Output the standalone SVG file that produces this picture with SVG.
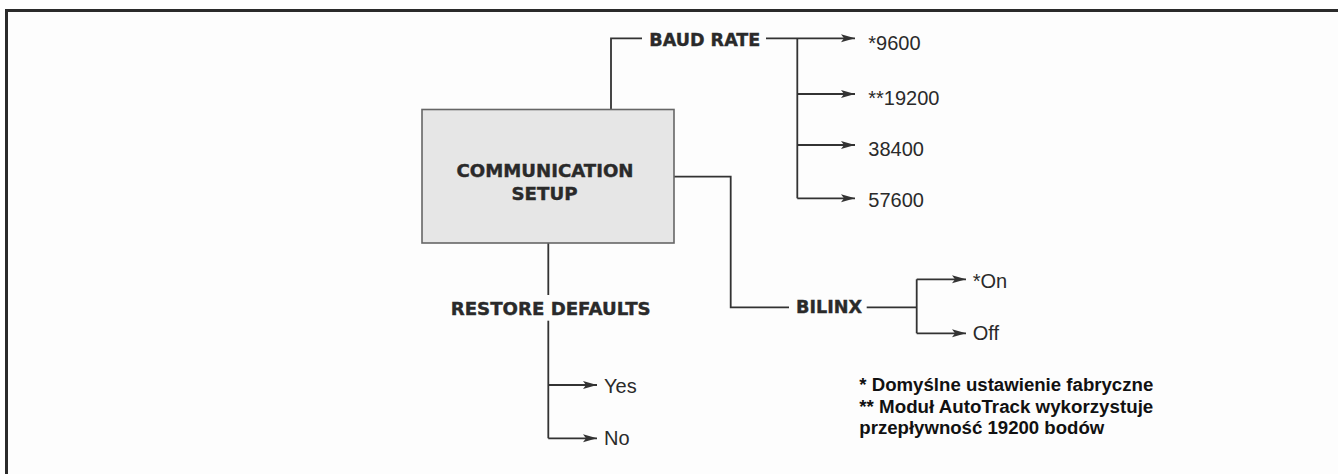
<svg xmlns="http://www.w3.org/2000/svg" width="1338" height="474" viewBox="0 0 1338 474">
<style>
.ln{fill:none;stroke:#333;stroke-width:1.8}
.arr{marker-end:url(#ah)}
.hd{font-family:"DejaVu Sans",sans-serif;font-weight:bold;font-size:18px;fill:#2a2a2a;stroke:#2a2a2a;stroke-width:0.4}
.val{font-family:"Liberation Sans",Arial,sans-serif;font-size:20px;fill:#2a2a2a}
.note{font-family:"Liberation Sans",Arial,sans-serif;font-weight:bold;font-size:18px;fill:#111}
</style>
<defs>
<marker id="ah" markerUnits="userSpaceOnUse" markerWidth="15" markerHeight="10" viewBox="0 0 15 10" refX="14" refY="5" orient="auto">
<path d="M0,1 L14,5 L0,9 L3,5 Z" fill="#333"/>
</marker>
</defs>
<rect width="1338" height="474" fill="#fff"/>
<rect x="6.5" y="10.5" width="1340" height="470" fill="#fdfdfd"/>
<path d="M6.5,474 V10.5 H1338" fill="none" stroke="#2b2b2b" stroke-width="3"/>

<g id="connectors">
<path class="ln" d="M611,109 V38.3 H642"/>
<path class="ln arr" d="M766,38.3 H855"/>
<path class="ln" d="M797.3,38.3 V198.3"/>
<path class="ln arr" d="M797.3,94 H855"/>
<path class="ln arr" d="M797.3,145 H855"/>
<path class="ln arr" d="M797.3,198.3 H855"/>
<path class="ln" d="M674,176.7 H730.7 V307.3 H789"/>
<path class="ln" d="M866.7,307.3 H916.7"/>
<path class="ln" d="M916.7,279.3 V333.3"/>
<path class="ln arr" d="M916.7,279.3 H966"/>
<path class="ln arr" d="M916.7,333.3 H966"/>
<path class="ln" d="M548.3,243 V295"/>
<path class="ln" d="M548.3,320.7 V438.3"/>
<path class="ln arr" d="M548.3,385 H597"/>
<path class="ln arr" d="M548.3,438.3 H597"/>
</g>

<g id="comm-setup">
<rect x="422" y="109.5" width="252" height="133.5" fill="#e6e6e6" stroke="#666" stroke-width="1.6"/>
<text class="hd" x="545" y="176.5" text-anchor="middle" textLength="177" lengthAdjust="spacingAndGlyphs">COMMUNICATION</text>
<text class="hd" x="544.5" y="200" text-anchor="middle" textLength="66" lengthAdjust="spacingAndGlyphs">SETUP</text>
</g>

<g id="baud-rate">
<text class="hd" x="649.3" y="46" textLength="111" lengthAdjust="spacingAndGlyphs">BAUD RATE</text>
</g>
<g id="b9600"><text class="val" x="868.3" y="50">*9600</text></g>
<g id="b19200"><text class="val" x="868.3" y="104.5">**19200</text></g>
<g id="b38400"><text class="val" x="868.3" y="156">38400</text></g>
<g id="b57600"><text class="val" x="868.3" y="207.3">57600</text></g>

<g id="bilinx">
<text class="hd" x="796" y="313.3" textLength="66" lengthAdjust="spacingAndGlyphs">BILINX</text>
</g>
<g id="on"><text class="val" x="972.7" y="288.3">*On</text></g>
<g id="off"><text class="val" x="972.7" y="340">Off</text></g>

<g id="restore">
<text class="hd" x="450.7" y="315" textLength="200" lengthAdjust="spacingAndGlyphs">RESTORE DEFAULTS</text>
</g>
<g id="yes"><text class="val" x="604" y="392.7">Yes</text></g>
<g id="no"><text class="val" x="604" y="445">No</text></g>

<g id="notes">
<text class="note" x="859.3" y="391" textLength="294" lengthAdjust="spacingAndGlyphs">* Domyślne ustawienie fabryczne</text>
<text class="note" x="859.3" y="413" textLength="294" lengthAdjust="spacingAndGlyphs">** Moduł AutoTrack wykorzystuje</text>
<text class="note" x="859.3" y="433.5" textLength="245" lengthAdjust="spacingAndGlyphs">przepływność 19200 bodów</text>
</g>
</svg>
